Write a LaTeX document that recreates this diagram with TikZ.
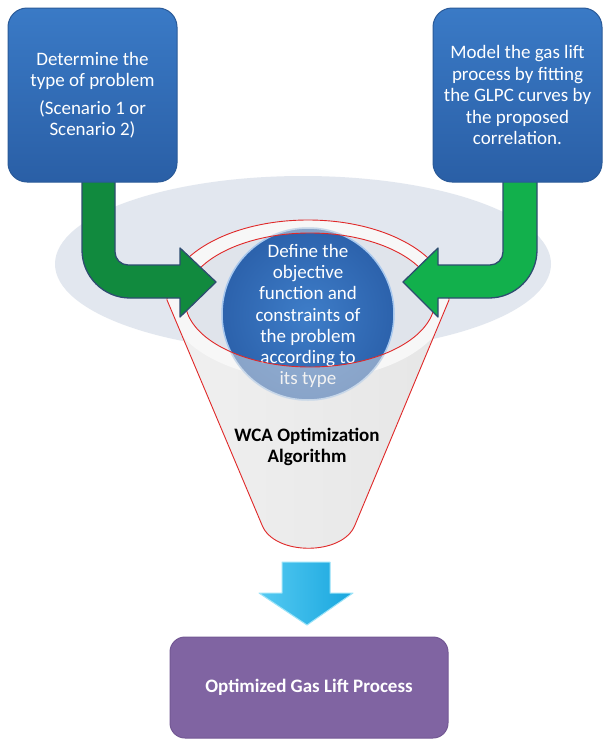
\documentclass[tikz,border=0pt]{standalone}
\usepackage{fontspec}
\setmainfont{Carlito}
\usetikzlibrary{calc}
\definecolor{greyell}{HTML}{E2E7EF}
\definecolor{funnelgrey}{HTML}{E6E6E6}
\definecolor{funnellight}{HTML}{F0F0F0}
\definecolor{rimwhite}{HTML}{F7F7F7}
\definecolor{innergrey}{HTML}{E0E4EB}
\definecolor{redline}{HTML}{E02828}
\definecolor{boxtop}{HTML}{3A7AC6}
\definecolor{boxbot}{HTML}{2A5FA6}
\definecolor{boxedge}{HTML}{2A5A98}
\definecolor{circin}{HTML}{3E7DC8}
\definecolor{circout}{HTML}{2C62AC}
\definecolor{circrim}{HTML}{A8C8EE}
\definecolor{greenL}{HTML}{118A3E}
\definecolor{greenR}{HTML}{12B04C}
\definecolor{greenedge}{HTML}{2E4D70}
\definecolor{cyanlight}{HTML}{55CAF2}
\definecolor{cyandark}{HTML}{18A6DE}
\definecolor{cyanedge}{HTML}{9BE3F8}
\definecolor{purplefill}{HTML}{8064A2}
\definecolor{purpleedge}{HTML}{735894}
\tikzset{
  bluebox/.style={draw=boxedge, line width=1pt, rounded corners=19pt,
    top color=boxtop, bottom color=boxbot, minimum width=169pt, minimum height=174pt,
    text=white, align=center, inner sep=0pt, font=\fontsize{19}{21.5}\selectfont},
  greenarrow/.style={draw=greenedge, line width=1.3pt, line join=round},
  redoutline/.style={draw=redline, line width=0.9pt},
  circtextstyle/.style={text=white, align=center, inner sep=0pt, font=\fontsize{19}{21.3}\selectfont},
  purplebox/.style={fill=purplefill, draw=purpleedge, line width=1pt, rounded corners=15pt,
    minimum width=278pt, minimum height=101pt, text=white, inner sep=0pt,
    font=\bfseries\fontsize{19}{21}\selectfont},
  downarrow/.style={left color=cyanlight, right color=cyandark, draw=cyanedge, line width=1pt, line join=round}
}
\begin{document}
\begin{tikzpicture}[x=1pt,y=-1pt]
\useasboundingbox (0,0) rectangle (605,739);
\fill[white] (0,0) rectangle (605,739);

% background grey ellipse
\fill[greyell] (303,264) ellipse [x radius=248, y radius=88];

% funnel
\def\funnelpath{(167,300) arc[start angle=180,end angle=360,x radius=141,y radius=80] -- (355,525) .. controls (343,556) and (274,556) .. (262,525) -- cycle}
\shade[left color=funnellight, right color=funnelgrey] \funnelpath;
\begin{scope}
  \clip \funnelpath;
  \fill[rimwhite] (308,300) ellipse [x radius=141, y radius=80];
\end{scope}
\fill[innergrey] (310,300) ellipse [x radius=125, y radius=67];

% central circle
\node[circle, minimum size=172pt, inner sep=0pt, shading=radial, inner color=circin, outer color=circout,
      draw=circrim, line width=1.5pt] (circ) at (308,314) {};
\node[circtextstyle] (circtxt) at (308,316) {Define the\\objective\\function and\\constraints of\\the problem\\according to\\its type};

% faded lower part of the circle (funnel body in front)
\begin{scope}
  \clip (308,314) circle (87);
  \fill[funnelgrey, opacity=0.5, even odd rule] \funnelpath (310,300) ellipse [x radius=125, y radius=67];
\end{scope}

% red outlines
\draw[redoutline] \funnelpath;
\draw[redoutline] (310,300) ellipse [x radius=125, y radius=67];

% algorithm label
\node[font=\bfseries\fontsize{19}{20.5}\selectfont, align=center, inner sep=0pt] (wca) at (307,447) {WCA Optimization\\Algorithm};

% green arrows
\draw[greenarrow, fill=greenL] (82,180) -- (82,250) .. controls (82,276.5) and (103.5,298) .. (130,298)
  -- (180,298) -- (180,317) -- (216,282) -- (180,248) -- (180,265) -- (128,265)
  .. controls (120.8,265) and (115,259.2) .. (115,252) -- (115,180) -- cycle;
\draw[greenarrow, fill=greenR] (537,180) -- (537,250) .. controls (537,276.5) and (515.5,298) .. (489,298)
  -- (438,298) -- (438,317) -- (403,282) -- (438,248) -- (438,265) -- (490,265)
  .. controls (497.2,265) and (503,259.2) .. (503,252) -- (503,180) -- cycle;

% top boxes
\node[bluebox] (lbox) at (92.5,95) {Determine the\\type of problem\\[6pt](Scenario 1 or\\Scenario 2)};
\node[bluebox] (rbox) at (517.5,95) {Model the gas lift\\process by fitting\\the GLPC curves by\\the proposed\\correlation.};

% output box and arrow
\node[purplebox] (outbox) at (309,687.5) {Optimized Gas Lift Process};
\draw[downarrow] (282,562) -- (330,562) -- (330,593) -- (353,593) -- (307,625) -- (259,593) -- (282,593) -- cycle;
\end{tikzpicture}
\end{document}
